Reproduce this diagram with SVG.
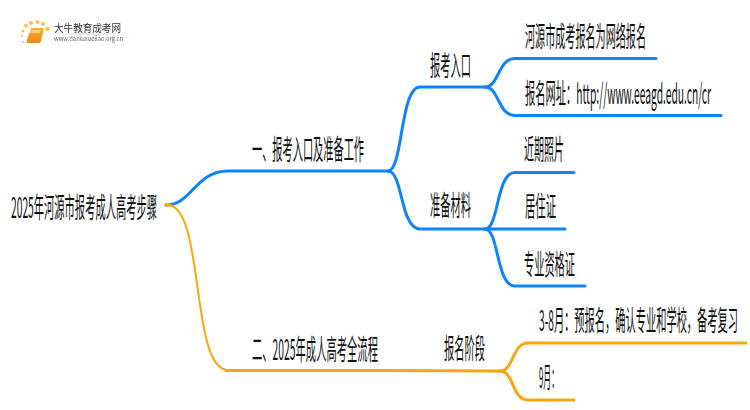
<svg xmlns="http://www.w3.org/2000/svg" width="750" height="410" viewBox="0 0 750 410">
<defs>
<filter id="b" x="-20%" y="-20%" width="140%" height="140%"><feGaussianBlur stdDeviation="0.55"/></filter>
<linearGradient id="bk" x1="0" y1="0" x2="0" y2="1"><stop offset="0" stop-color="#fcb02a"/><stop offset="1" stop-color="#ee8418"/></linearGradient>
<linearGradient id="rule" x1="0" y1="0" x2="1" y2="0"><stop offset="0" stop-color="#ccc" stop-opacity="0"/><stop offset=".4" stop-color="#ccc"/><stop offset="1" stop-color="#ccc" stop-opacity="0"/></linearGradient>
</defs>
<style>
text{font-family:"Noto Sans CJK SC","Noto Sans",sans-serif;fill:#111;font-size:28px}
.ls{fill:none;stroke-width:3;stroke-linecap:round}.lb{stroke:#0f83fb}.lo{stroke:#f7a70e}
.thin{stroke-width:2}
</style>
<rect width="750" height="410" fill="#fff"/>
<g id="logo" filter="url(#b)">
<g fill="#fbc04e">
<circle cx="23" cy="31" r="1.500"/><circle cx="26" cy="25.500" r="2"/><circle cx="31" cy="23" r="2"/><circle cx="37.500" cy="22" r="2"/><circle cx="43" cy="24" r="2"/><circle cx="47.500" cy="29" r="2.300"/><circle cx="22" cy="36" r="1"/><circle cx="23" cy="42" r="1"/>
</g>
<path d="M31,28H43Q44,28 43.500,30L41,41Q40.500,43 39,43H28Q26,43 27,40Z" fill="url(#bk)"/>
<path d="M31,30H41L40,33H30Z" fill="#fdd27a"/>
<text x="54" y="31.500" style="font-size:10.500px;fill:#333" textLength="67" lengthAdjust="spacingAndGlyphs">大牛教育成考网</text>
<text x="54" y="41" style="font-size:6px;fill:#666" textLength="69" lengthAdjust="spacingAndGlyphs">www.daniuxueiiao.org.cn</text>
<rect x="50" y="33.500" width="85" height="1" fill="url(#rule)"/>
</g>
<g id="connectors">
<path class="ls lb" d="M166,205C192,205 195,171 228,171H388"/>
<path class="ls lo" d="M166,205H170"/>
<path class="ls lo thin" d="M168,205C205,207 190,370 228,370"/>
<path class="ls lo" d="M226,370.500H388L500,371"/>
<path class="ls lb" d="M388,171C403,171 400,87 420,87H485"/>
<path class="ls lb" d="M388,171C403,171 400,229 420,229H485"/>
<path class="ls lb" d="M485,87C499,87 498,58.500 515,58.500H656"/>
<path class="ls lb" d="M485,87C499,87 498,115.500 515,115.500H721"/>
<path class="ls lb" d="M485,229C499,229 496,172.500 515,172.500H574"/>
<path class="ls lb" d="M485,229H565"/>
<path class="ls lb" d="M485,229C499,229 496,286 515,286H585"/>
<path class="ls lo" d="M500,371C514,371 512,343 528,343H746"/>
<path class="ls lo" d="M500,371C514,371 512,400 528,400H574"/>
</g>
<g id="root"><text transform="matrix(.4 0 0 1 11 218)" textLength="365" lengthAdjust="spacingAndGlyphs">2025年河源市报考成人高考步骤</text></g>
<g id="n1"><text transform="matrix(.4 0 0 1 252 160)" textLength="280" lengthAdjust="spacingAndGlyphs">一、报考入口及准备工作</text></g>
<g id="n2"><text transform="matrix(.4 0 0 1 252 360)" textLength="315" lengthAdjust="spacingAndGlyphs">二、2025年成人高考全流程</text></g>
<g id="n11"><text transform="matrix(.4 0 0 1 430 76)" textLength="102.500" lengthAdjust="spacingAndGlyphs">报考入口</text></g>
<g id="n12"><text transform="matrix(.4 0 0 1 430 216)" textLength="102.500" lengthAdjust="spacingAndGlyphs">准备材料</text></g>
<g id="n21"><text transform="matrix(.4 0 0 1 444 359)" textLength="102.500" lengthAdjust="spacingAndGlyphs">报名阶段</text></g>
<g id="n111"><text transform="matrix(.4 0 0 1 525 47)" textLength="302.500" lengthAdjust="spacingAndGlyphs">河源市成考报名为网络报名</text></g>
<g id="n112"><text transform="matrix(.4 0 0 1 525 104)" textLength="465" lengthAdjust="spacingAndGlyphs">报名网址：http://www.eeagd.edu.cn/cr</text></g>
<g id="n121"><text transform="matrix(.4 0 0 1 524 160)" textLength="100" lengthAdjust="spacingAndGlyphs">近期照片</text></g>
<g id="n122"><text transform="matrix(.4 0 0 1 525 217)" textLength="77.500" lengthAdjust="spacingAndGlyphs">居住证</text></g>
<g id="n123"><text transform="matrix(.4 0 0 1 524 275)" textLength="127.500" lengthAdjust="spacingAndGlyphs">专业资格证</text></g>
<g id="n211"><text transform="matrix(.4 0 0 1 539 331)" textLength="497.500" lengthAdjust="spacingAndGlyphs">3-8月：预报名，确认专业和学校，备考复习</text></g>
<g id="n212"><text transform="matrix(.4 0 0 1 539 388)" textLength="50" lengthAdjust="spacingAndGlyphs">9月：</text></g>
</svg>
